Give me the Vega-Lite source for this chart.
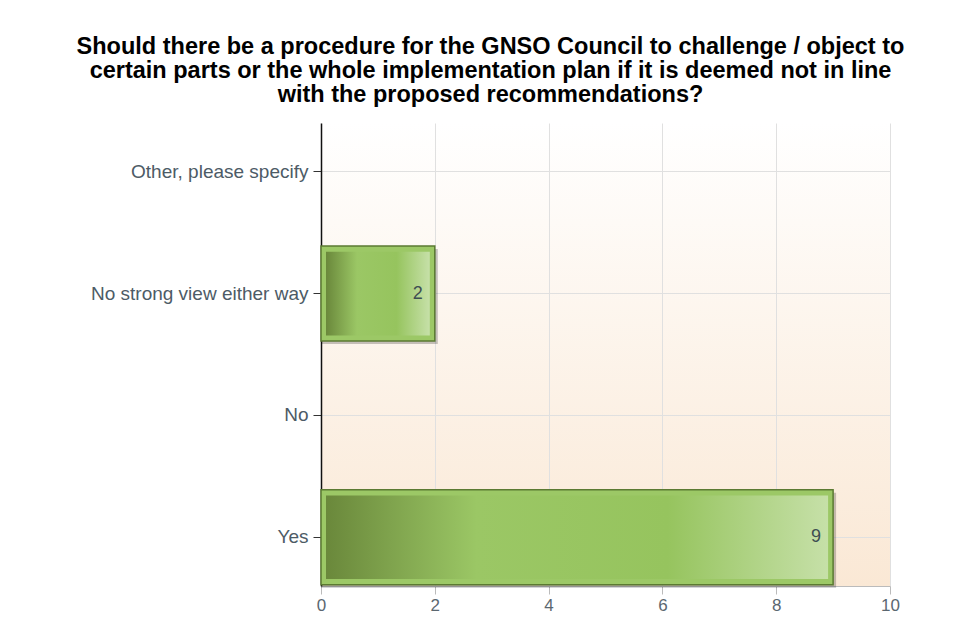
{
  "$schema": "https://vega.github.io/schema/vega-lite/v6.json",
  "autosize": {"type": "none"},
  "padding": {"left": 321, "top": 123, "right": 68, "bottom": 52},
  "width": 569,
  "height": 463,
  "background": "#ffffff",
  "config": {
    "view": {"stroke": null, "fill": {"gradient": "linear", "x1": 0, "y1": 0, "x2": 0, "y2": 1, "stops": [{"offset": 0, "color": "#ffffff"}, {"offset": 1, "color": "#fae8d5"}]}},
    "font": "Liberation Sans",
    "axisY": {"title": null, "labelFontSize": 19, "labelColor": "#4d5b66", "labelFont": "Liberation Sans", "domainColor": "#111111", "domainWidth": 1.5, "tickColor": "#333333", "tickSize": 8, "labelPadding": 5, "labelLimit": 400, "grid": true, "gridColor": "#e0e0e0", "labelFontWeight": "normal"},
    "axisX": {"title": null, "labelFontSize": 17, "labelColor": "#5b6770", "labelFont": "Liberation Sans", "domainColor": "#bbbbbb", "tickColor": "#bbbbbb", "tickSize": 8, "labelPadding": 3, "labelFlush": false, "grid": true, "gridColor": "#e0e0e0"}
  },
  "title": {
    "text": ["Should there be a procedure for the GNSO Council to challenge / object to", "certain parts or the whole implementation plan if it is deemed not in line", "with the proposed recommendations?"],
    "anchor": "middle",
    "frame": "group",
    "dx": -115,
    "offset": 17,
    "fontSize": 23.5,
    "fontWeight": "bold",
    "lineHeight": 24,
    "color": "#000000",
    "font": "Liberation Sans"
  },
  "data": {"values": [
    {"answer": "Other, please specify", "count": 0},
    {"answer": "No strong view either way", "count": 2},
    {"answer": "No", "count": 0},
    {"answer": "Yes", "count": 9}
  ]},
  "layer": [
    {
      "transform": [{"filter": "datum.count > 0"}],
      "mark": {"type": "bar", "color": "#000000", "opacity": 0.22, "xOffset": 3, "yOffset": 3},
      "encoding": {
        "y": {"field": "answer", "type": "nominal", "sort": null, "scale": {"domain": ["Other, please specify", "No strong view either way", "No", "Yes"], "paddingInner": 0.22, "paddingOuter": 0.01}},
        "x": {"field": "count", "type": "quantitative", "scale": {"domain": [0, 10], "nice": false}, "axis": {"values": [0, 2, 4, 6, 8, 10], "format": "d"}},
        "x2": {"datum": 0}
      }
    },
    {
      "transform": [{"filter": "datum.count > 0"}],
      "mark": {"type": "bar", "fill": "#9cc866", "stroke": "#5b7a32", "strokeWidth": 1.5},
      "encoding": {
        "y": {"field": "answer", "type": "nominal", "sort": null},
        "x": {"field": "count", "type": "quantitative"},
        "x2": {"datum": 0}
      }
    },
    {
      "transform": [{"filter": "datum.count > 0"}],
      "mark": {"type": "bar", "height": {"band": 0.88}, "xOffset": -5, "x2Offset": 5,
        "fill": {"gradient": "linear", "x1": 0, "y1": 0, "x2": 1, "y2": 0, "stops": [
          {"offset": 0, "color": "#6a883b"},
          {"offset": 0.3, "color": "#9bc765"},
          {"offset": 0.68, "color": "#96c45e"},
          {"offset": 1, "color": "#c6e0a8"}
        ]}},
      "encoding": {
        "y": {"field": "answer", "type": "nominal", "sort": null},
        "x": {"field": "count", "type": "quantitative"},
        "x2": {"datum": 0}
      }
    },
    {
      "transform": [{"filter": "datum.count > 0"}],
      "mark": {"type": "text", "align": "right", "baseline": "middle", "dx": -12, "fontSize": 18, "color": "#3e4e52", "font": "Liberation Sans"},
      "encoding": {
        "y": {"field": "answer", "type": "nominal", "sort": null},
        "x": {"field": "count", "type": "quantitative"},
        "text": {"field": "count", "type": "quantitative"}
      }
    }
  ]
}
